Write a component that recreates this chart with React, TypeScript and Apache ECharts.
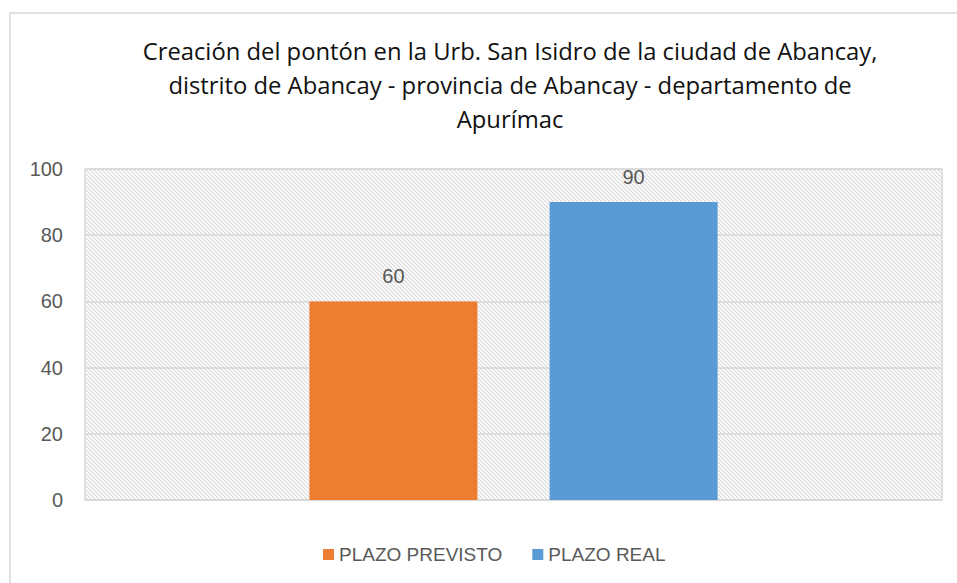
import React, { useEffect, useRef } from "react";
import * as echarts from "echarts";

const titleLines = [
  "Creación del pontón en la Urb. San Isidro de la ciudad de Abancay,",
  "distrito de Abancay - provincia de Abancay - departamento de",
  "Apurímac",
];
const categories = [""];
const seriesNames = ["PLAZO PREVISTO", "PLAZO REAL"];
const previsto = [60];
const real = [90];
const yTicks = { min: 0, max: 100, interval: 20 };

const hatchSvg =
  '<svg xmlns="http://www.w3.org/2000/svg" width="4" height="4">' +
  '<path d="M-1,-1 L5,5 M-1,3 L1,5 M3,-1 L5,1" stroke="#d6d6d6" stroke-width="1.1"/></svg>';
const hatchUrl = "data:image/svg+xml;charset=utf-8," + encodeURIComponent(hatchSvg);

export default function App() {
  const ref = useRef<HTMLDivElement>(null);
  useEffect(() => {
    if (!ref.current) return;
    const chart = echarts.init(ref.current, null, { renderer: "svg" });
    const labelStyle = {
      show: true,
      position: "top" as const,
      distance: 15,
      fontSize: 20,
      color: "#595959",
      fontFamily: "Liberation Sans, Arial, sans-serif",
    };
    chart.setOption({
      animation: false,
      backgroundColor: "#ffffff",
      textStyle: { fontFamily: "Liberation Sans, Arial, sans-serif" },
      graphic: [
        {
          type: "rect",
          shape: { x: 10, y: 13, width: 1000, height: 700 },
          style: { fill: "none", stroke: "#d9d9d9", lineWidth: 1.5 },
          silent: true,
        },
        {
          type: "text",
          x: 510,
          y: 34,
          style: {
            text: titleLines.join("\n"),
            textAlign: "center",
            fontSize: 23.8,
            lineHeight: 34,
            fill: "#111111",
            fontFamily: "Open Sans, sans-serif",
          },
        },
      ],
      grid: {
        left: 85,
        top: 169,
        width: 857,
        height: 331,
        show: true,
        borderColor: "#d9d9d9",
        borderWidth: 1.5,
        backgroundColor: { image: hatchUrl, repeat: "repeat" },
      },
      legend: {
        data: seriesNames,
        left: 318,
        top: 540,
        itemWidth: 11,
        itemHeight: 11,
        itemGap: 30,
        icon: "rect",
        textStyle: { fontSize: 19, color: "#595959" },
      },
      xAxis: {
        type: "category",
        data: categories,
        axisLine: { show: true, lineStyle: { color: "#d9d9d9", width: 1.5 } },
        axisTick: { show: false },
        axisLabel: { show: false },
      },
      yAxis: {
        type: "value",
        min: yTicks.min,
        max: yTicks.max,
        interval: yTicks.interval,
        axisLine: { show: false },
        axisTick: { show: false },
        axisLabel: { fontSize: 20, color: "#595959", margin: 22 },
        splitLine: { lineStyle: { color: "#d9d9d9", width: 1.5 } },
      },
      series: [
        {
          name: seriesNames[0],
          type: "bar",
          data: previsto,
          barWidth: 168,
          barGap: "43%",
          itemStyle: { color: "#ed7d31" },
          label: labelStyle,
        },
        {
          name: seriesNames[1],
          type: "bar",
          data: real,
          barWidth: 168,
          itemStyle: { color: "#5b9bd5" },
          label: labelStyle,
        },
      ],
    });
    return () => chart.dispose();
  }, []);
  return (
    <div
      ref={ref}
      style={{ position: "fixed", left: 0, top: 0, width: 957, height: 583 }}
    />
  );
}
